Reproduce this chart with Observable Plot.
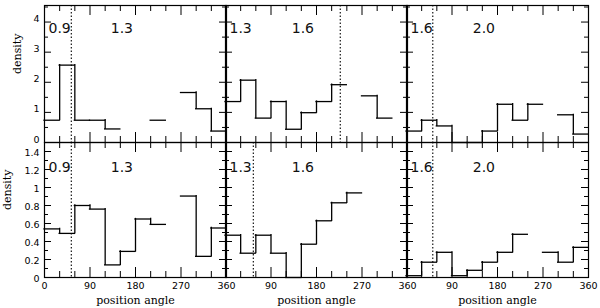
<!DOCTYPE html>
<html><head><meta charset="utf-8">
<script src="https://cdn.jsdelivr.net/npm/d3@7"></script>
<script src="https://cdn.jsdelivr.net/npm/@observablehq/plot@0.6"></script>
<style>
body{margin:0;background:#fff;}
#chart{position:relative;width:600px;height:308px;overflow:hidden;background:#fff;}
#chart svg{position:absolute;overflow:visible;}
</style></head><body><div id="chart"></div>
<script>
// ---- data ----
const binStart = [0, 30, 60, 90, 120, 150, 180, 210, 240, 270, 300, 330];
const binWidth = 30;
// density per 30-degree bin of position angle (null = not legible in the source)
const densTopA = [0.74, 2.57, 0.74, 0.74, 0.45, null, null, 0.74, null, 1.66, 1.12, 0.38];
const densTopB = [1.36, 2.07, 0.81, 1.36, 0.44, 0.99, 1.36, 1.92, null, 1.55, 0.81, null];
const densTopC = [0.38, 0.74, 0.55, 0, 0, 0.38, 1.27, 0.74, 1.27, null, 0.92, 0.28];
const densBotA = [0.54, 0.49, 0.80, 0.76, 0.14, 0.29, 0.65, 0.59, null, 0.905, 0.235, 0.55];
const densBotB = [0.47, 0.27, 0.47, 0.27, 0, 0.37, 0.63, 0.83, 0.94, null, null, null];
const densBotC = [0.02, 0.17, 0.28, 0.02, 0.08, 0.17, 0.28, 0.48, null, 0.28, 0.17, 0.335];
const ringLo = ["0.9", "1.3", "1.6"];
const ringHi = ["1.3", "1.6", "2.0"];
const markerTop = [53, 227, 52];
const markerBot = [53, 55, 52];
const xTickLabels = [0, 90, 180, 270, 360];
const xMinorTicks = [0, 30, 60, 90, 120, 150, 180, 210, 240, 270, 300, 330, 360];
const yTickLabelsTop = [0, 1, 2, 3, 4];
const yTickLabelsBot = [0, 0.2, 0.4, 0.6, 0.8, 1, 1.2, 1.4];
const yMinorTop = [0.5, 1, 1.5, 2, 2.5, 3, 3.5, 4, 4.5];
const yMinorBot = [0.1, 0.2, 0.3, 0.4, 0.5, 0.6, 0.7, 0.8, 0.9, 1, 1.1, 1.2, 1.3, 1.4, 1.5];

// ---- layout ----
const colLeft = [44, 225, 406], colW = 182;
const rowTop = [5, 142], rowH = [137, 135];
const yDomain = [[0, 4.55], [0, 1.5]];
const mL = 50, mR = 20, mT = 10, mB = 40;
const chart = document.getElementById("chart");
const sans = "'DejaVu Sans', sans-serif", serif = "'DejaVu Serif', serif";

function segments(vals) {
  const h = [], v = [];
  vals.forEach((d, i) => {
    if (d != null) h.push({x1: binStart[i], x2: binStart[i] + binWidth, y: d});
    if (i > 0 && d != null && vals[i - 1] != null && d !== vals[i - 1]) v.push({x: binStart[i], y1: vals[i - 1], y2: d});
  });
  return {h, v};
}

function panel(vals, row, col) {
  const h = rowH[row];
  const {h: hs, v: vs} = segments(vals);
  const yLabels = row === 0 ? yTickLabelsTop : yTickLabelsBot;
  const yMinor = row === 0 ? yMinorTop : yMinorBot;
  const isMajorY = row === 0 ? (d => Number.isInteger(d)) : (d => Math.abs(d * 5 - Math.round(d * 5)) < 1e-6);
  const xMaj = xMinorTicks.filter(d => d % 90 === 0), xMin = xMinorTicks.filter(d => d % 90 !== 0);
  const yMaj = yMinor.filter(isMajorY), yMin = yMinor.filter(d => !isMajorY(d));
  const marks = [
    Plot.frame({stroke: "black", strokeWidth: 1.2}),
    Plot.tickX(xMin, {x: d => d, insetTop: h - 6, stroke: "black"}),
    Plot.tickX(xMaj, {x: d => d, insetTop: h - 10, stroke: "black"}),
    Plot.tickX(xMin, {x: d => d, insetBottom: h - 6, stroke: "black"}),
    Plot.tickX(xMaj, {x: d => d, insetBottom: h - 10, stroke: "black"}),
    Plot.tickY(yMin, {y: d => d, insetRight: colW - 4, stroke: "black"}),
    Plot.tickY(yMaj, {y: d => d, insetRight: colW - 7, stroke: "black"}),
    Plot.tickY(yMin, {y: d => d, insetLeft: colW - 4, stroke: "black"}),
    Plot.tickY(yMaj, {y: d => d, insetLeft: colW - 7, stroke: "black"}),
    Plot.ruleX([row === 0 ? markerTop[col] : markerBot[col]], {stroke: "black", strokeWidth: 1.1, strokeDasharray: "1.5,2"}),
    Plot.ruleY(hs, {x1: "x1", x2: "x2", y: "y", stroke: "black", strokeWidth: 1.3, strokeLinecap: "square"}),
    Plot.ruleX(vs, {x: "x", y1: "y1", y2: "y2", stroke: "black", strokeWidth: 1.3, strokeLinecap: "square"}),
    Plot.text([ringLo[col]], {frameAnchor: "top-left", dx: 4, dy: row === 0 ? 18 : 20, textAnchor: "start", fontSize: 14, fontFamily: sans, fill: "#111"}),
    Plot.text([ringHi[col]], {x: () => 131, frameAnchor: "top", dy: row === 0 ? 18 : 20, textAnchor: "start", fontSize: 14, fontFamily: sans, fill: "#111"})
  ];
  if (col === 0) {
    marks.push(
      Plot.text(yLabels, {y: d => d, frameAnchor: "left", dx: -5, dy: row === 0 ? -3 : 1, textAnchor: "end", fontSize: 9.5, fontFamily: sans, text: d => String(d)}),
      Plot.text(["density"], {frameAnchor: "left", dx: row === 0 ? -27 : -37, rotate: -90, fontSize: 11, fontFamily: serif})
    );
  }
  if (row === 1) {
    // the 0 of the middle/right panels coincides with the 360 of the panel on their left
    const labs = col === 0 ? xTickLabels : xTickLabels.filter(d => d !== 0);
    marks.push(
      Plot.text(labs, {x: d => d, frameAnchor: "bottom", dy: 11, fontSize: 9.5, fontFamily: sans, text: d => String(d)}),
      Plot.text(["position angle"], {frameAnchor: "bottom", dy: 26, fontSize: 11, fontFamily: serif})
    );
  }
  const svg = Plot.plot({
    width: colW + mL + mR, height: h + mT + mB,
    marginLeft: mL, marginRight: mR, marginTop: mT, marginBottom: mB,
    x: {domain: [0, 360], axis: null},
    y: {domain: yDomain[row], axis: null},
    style: {background: "transparent", overflow: "visible"},
    marks
  });
  svg.style.left = (colLeft[col] - mL) + "px";
  svg.style.top = (rowTop[row] - mT) + "px";
  chart.appendChild(svg);
}

[densTopA, densTopB, densTopC].forEach((v, c) => panel(v, 0, c));
[densBotA, densBotB, densBotC].forEach((v, c) => panel(v, 1, c));
</script></body></html>
